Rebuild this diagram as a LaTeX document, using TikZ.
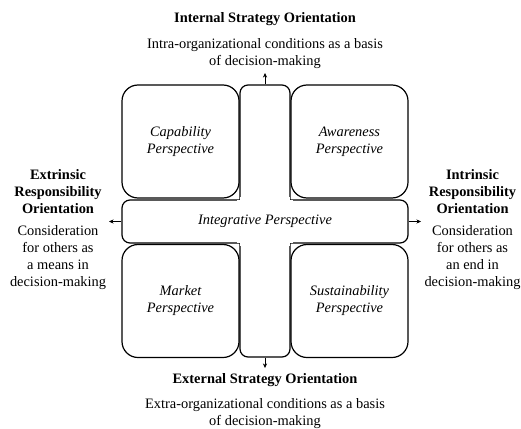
\documentclass[tikz,border=0pt]{standalone}
\usepackage{fontspec}
\setmainfont{Liberation Serif}
\usetikzlibrary{arrows.meta,positioning}

\tikzset{
  quad/.style={draw,line width=1.2pt,rounded corners=16pt,minimum width=117pt,
    minimum height=113pt,inner sep=0pt,align=center,font=\fontsize{14.4}{17}\selectfont\itshape},
  bar/.style={draw,line width=1.2pt,rounded corners=8pt,inner sep=0pt},
  title/.style={font=\fontsize{14.4}{17}\selectfont\bfseries,align=center},
  desc/.style={font=\fontsize{14.4}{17}\selectfont,align=center},
}

\begin{document}
\begin{tikzpicture}[x=1pt,y=-1pt,>={Stealth[length=4.5pt,width=4pt]}]
        \useasboundingbox (0,0) rectangle (521,428);
        % quadrants
        \node[quad] (cap) at (180.5,141.5) {Capability\\Perspective};
        \node[quad] (awa) at (349.5,141.5) {Awareness\\Perspective};
        \node[quad] (mar) at (180.5,301) {Market\\Perspective};
        \node[quad] (sus) at (349.5,301) {Sustainability\\Perspective};
        % the cross in the middle
        \node[bar,minimum width=50pt,minimum height=272pt] (vbar) at (265,221) {};
        \node[bar,minimum width=286pt,minimum height=43pt] (hbar) at (265,221.5) {};
        \fill[white] ([shift={(1,-2)}]vbar.west |- hbar.north) rectangle ([shift={(-1,2)}]vbar.east |- hbar.south);
        \fill[white] ([shift={(-2,1)}]vbar.west |- hbar.north) rectangle ([shift={(2,-1)}]vbar.east |- hbar.south);
        \node[desc,font=\fontsize{14.4}{17}\selectfont\itshape] (integ) at (hbar) {Integrative Perspective};
        % orientations
        \node[title] (int) at (265,19) {Internal Strategy Orientation};
        \node[desc] (intd) at (265,53.5) {Intra-organizational conditions as a basis\\of decision-making};
        \node[title] (ext) at (265,380) {External Strategy Orientation};
        \node[desc] (extd) at (265,413.5) {Extra-organizational conditions as a basis\\of decision-making};
        \node[title] (exr) at (58,192) {Extrinsic\\Responsibility\\Orientation};
        \node[desc] (exrd) at (58,257.5) {Consideration\\for others as\\a means in\\decision-making};
        \node[title] (inr) at (472.5,192) {Intrinsic\\Responsibility\\Orientation};
        \node[desc] (inrd) at (472.5,257.5) {Consideration\\for others as\\an end in\\decision-making};
        % arrows
        \coordinate (up) at (265,73);
        \coordinate (down) at (265,368);
        \coordinate (left) at (109,221.5);
        \coordinate (right) at (421,221.5);
        \draw [->] (vbar.north) -- (up);
        \draw [->] (vbar.south) -- (down);
        \draw [->] (hbar.west) -- (left);
        \draw [->] (hbar.east) -- (right);
      \end{tikzpicture}
\end{document}
